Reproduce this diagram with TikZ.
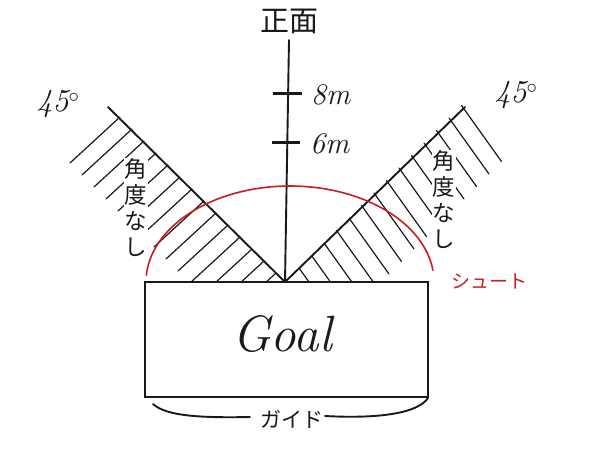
\documentclass[tikz,border=0pt]{standalone}
\usepackage{fontspec}
\newfontfamily\jp{Noto Sans CJK JP}
\definecolor{inkc}{RGB}{25,25,25}
\definecolor{pen}{RGB}{200,30,35}
\begin{document}
\begin{tikzpicture}[x=1pt,y=-1pt,
  ink/.style={draw=inkc, line width=1.9pt, line cap=round, line join=round},
  hatch/.style={draw=inkc, line width=1.2pt, line cap=round},
  tick/.style={draw=inkc, line width=3pt},
  vlabel/.style={font=\jp\fontsize{22.5}{26}\selectfont, align=center, fill=white, inner sep=1pt, text=inkc},
  hand/.style={font=\itshape\fontsize{30}{32}\selectfont, text=inkc, inner sep=0pt}]
\useasboundingbox[fill=white] (0,0) rectangle (600,450);

% key points
\coordinate (apex) at (285,282);
\coordinate (top) at (289,40);
\coordinate (lend) at (108,107);
\coordinate (rend) at (465,107);

% hatching
\begin{scope}
  \clip (0,0) rectangle (600,281);
  \foreach \d in {9,21,...,165}
    \draw[hatch] (285-\d,282-\d) -- ++(-50,46);
  \foreach \k in {0,...,13}
    \draw[hatch] ({285+14+12.5*\k},{282-14-12.5*\k}) -- ++(40,56);
\end{scope}

% labels in the hatched zones
\node[vlabel] (nl) at (136,208) {角\\度\\な\\し};
\node[vlabel] (nr) at (444,200) {角\\度\\な\\し};

% goal
\node[draw=inkc, line width=1.9pt, minimum width=283pt, minimum height=115pt,
      inner sep=0pt] (goal) at (286.5,339.5) {};
\node[font=\itshape\fontsize{51}{54}\selectfont, text=inkc, inner sep=0pt]
      (goaltext) at (282,334) {Goal};

% 45 degree lines and the front line
\draw[ink] (lend) -- (apex) -- (rend);
\draw[ink] (top) -- (apex);

% ticks
\draw[tick] (273,93) -- (302,93);
\draw[tick] (272,142) -- (300,142);
\node[hand, anchor=west] (l8) at (311,95) {8m};
\node[hand, anchor=west] (l6) at (310,144) {6m};

% title
\node[font=\jp\fontsize{29}{32}\selectfont, text=inkc] (front) at (289,21) {正面};

% 45 deg labels
\node[font=\itshape\fontsize{32}{34}\selectfont, text=inkc] (al) at (58,104) {45$^{\circ}$};
\node[font=\itshape\fontsize{32}{34}\selectfont, text=inkc] (ar) at (516,95) {45$^{\circ}$};

% shoot arc
\draw[pen, line width=1.6pt, line cap=round]
  plot[domain=184:353, samples=80, smooth] ({290+144*cos(\x)},{282+96*sin(\x)});
\node[font=\jp\fontsize{19}{21}\selectfont, text=pen] (shoot) at (489,281) {シュート};

% guide brace
\draw[ink] (153,404) .. controls (166,416) and (200,418) .. (250,417);
\draw[ink] (325,416) .. controls (380,419) and (418,413) .. (428,398);
\node[font=\jp\fontsize{21}{23}\selectfont, text=inkc] (guide) at (292,419) {ガイド};
\end{tikzpicture}
\end{document}
